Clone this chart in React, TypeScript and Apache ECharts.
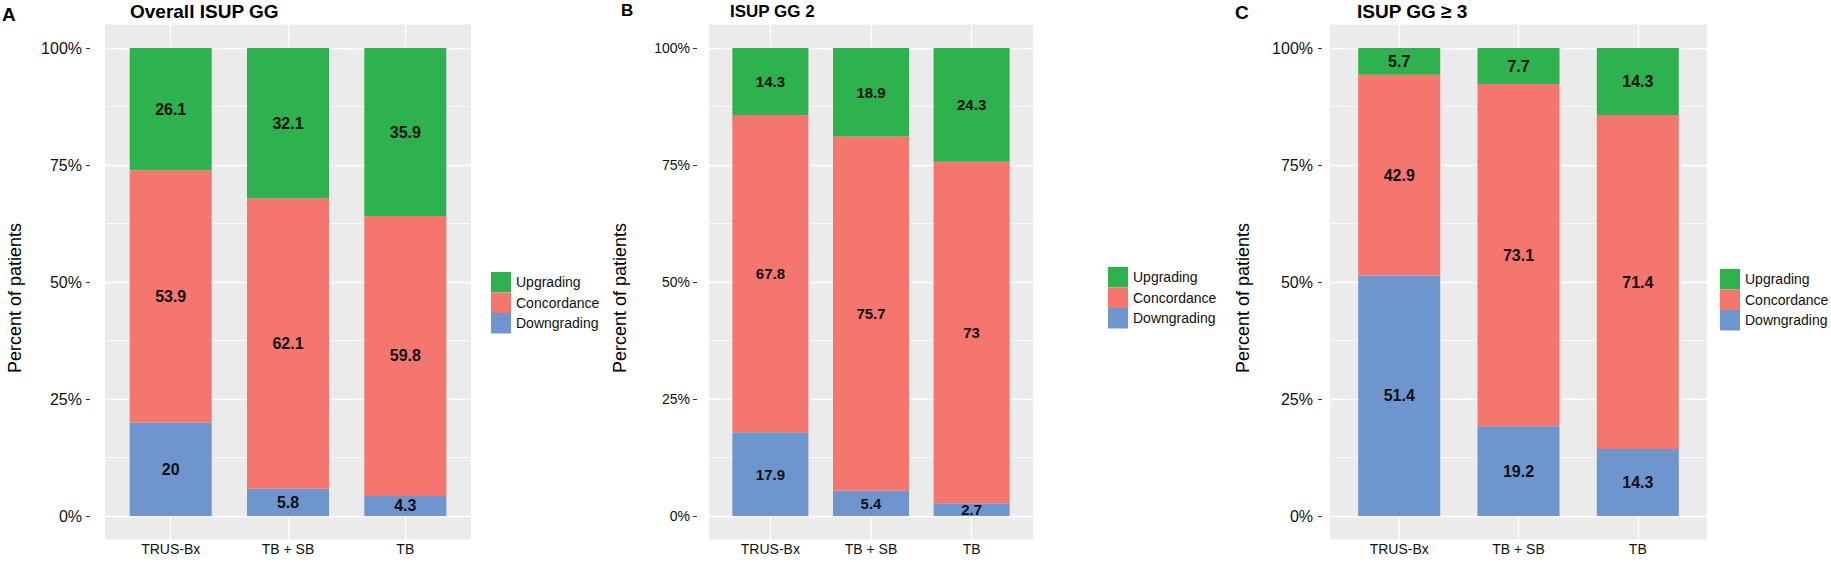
import React, { useEffect, useRef } from "react";
import * as echarts from "echarts";

// ---- data ----
const categories = ["TRUS-Bx", "TB + SB", "TB"];
const legendOrder = ["Upgrading", "Concordance", "Downgrading"];
const panelTags = ["A", "B", "C"];
const panelTitles = ["Overall ISUP GG", "ISUP GG 2", "ISUP GG \u2265 3"];
const yTicks = [0, 25, 50, 75, 100];
const yMinorTicks = [12.5, 37.5, 62.5, 87.5];

const downA = [20, 5.8, 4.3];
const concA = [53.9, 62.1, 59.8];
const upA = [26.1, 32.1, 35.9];

const downB = [17.9, 5.4, 2.7];
const concB = [67.8, 75.7, 73];
const upB = [14.3, 18.9, 24.3];

const downC = [51.4, 19.2, 14.3];
const concC = [42.9, 73.1, 71.4];
const upC = [5.7, 7.7, 14.3];

const panelData = [
  { down: downA, conc: concA, up: upA },
  { down: downB, conc: concB, up: upB },
  { down: downC, conc: concC, up: upC },
];

// ---- styles / layout ----
const COLORS = { Upgrading: "#2EB24D", Concordance: "#F4766F", Downgrading: "#6E95CE" };
const FONT = "'Liberation Sans', Arial, Helvetica, sans-serif";
const W = 1831;
const H = 562;
const Y100 = 48;
const Y0 = 516;

const layouts = [
  { left: 105, right: 471, pad: 0.56, barWidth: 82, yLabelSize: 16, valSize: 16, tickGap: 15, labelMargin: 8,
    legendLeft: 491, legendTop: 272, yTitleX: 15, tag: { x: 2, y: 14.5, size: 19 }, title: { x: 130, y: 11, size: 19 } },
  { left: 709, right: 1033, pad: 0.61, barWidth: 76, yLabelSize: 14, valSize: 15, tickGap: 12, labelMargin: 7,
    legendLeft: 1108, legendTop: 267, yTitleX: 620, tag: { x: 621, y: 10, size: 17 }, title: { x: 730, y: 11, size: 17 } },
  { left: 1330, right: 1707, pad: 0.58, barWidth: 82, yLabelSize: 16, valSize: 16, tickGap: 8, labelMargin: 9,
    legendLeft: 1720, legendTop: 269, yTitleX: 1243, tag: { x: 1235, y: 12, size: 19 }, title: { x: 1357, y: 11, size: 19 } },
];

function buildOption() {
  const span = Y0 - Y100;
  const bgTop = Y100 - span * 0.05;
  const bgBottom = Y0 + span * 0.05;
  const grid: any[] = [];
  const xAxis: any[] = [];
  const yAxis: any[] = [];
  const series: any[] = [];
  const legend: any[] = [];
  const graphic: any[] = [];

  layouts.forEach((L, p) => {
    const u = (L.right - L.left) / (2 + 2 * L.pad);
    const innerLeft = L.left + (L.pad - 0.5) * u;
    const innerRight = L.right - (L.pad - 0.5) * u;
    const bgIdx = 2 * p;
    const inIdx = 2 * p + 1;

    grid.push({
      left: L.left, width: L.right - L.left, top: bgTop, height: bgBottom - bgTop,
      show: true, backgroundColor: "#EBEBEB", borderWidth: 0, containLabel: false, z: 0,
    });
    grid.push({
      left: innerLeft, width: innerRight - innerLeft, top: Y100, height: Y0 - Y100,
      show: false, containLabel: false,
    });

    xAxis.push({ gridIndex: bgIdx, type: "value", min: -L.pad, max: 2 + L.pad, show: false });
    yAxis.push({ gridIndex: bgIdx, type: "value", min: -5, max: 105, show: false });

    xAxis.push({
      gridIndex: inIdx, type: "category", data: categories, boundaryGap: true,
      axisLine: { show: false }, axisTick: { show: false }, splitLine: { show: false },
      offset: bgBottom - Y0,
      axisLabel: { fontSize: 14, color: "#111", margin: 3, fontFamily: FONT },
    });
    yAxis.push({
      gridIndex: inIdx, type: "value", min: 0, max: 100, interval: 25,
      axisLine: { show: false }, splitLine: { show: false },
      axisTick: { show: true, length: 4, lineStyle: { color: "#333", width: 1 } },
      offset: innerLeft - L.left + L.tickGap,
      axisLabel: { formatter: "{value}%", fontSize: L.yLabelSize, color: "#111", margin: L.labelMargin, fontFamily: FONT },
    });

    const lines: any[] = [];
    yTicks.forEach((v) => lines.push({ yAxis: v, lineStyle: { width: 1.4 } }));
    yMinorTicks.forEach((v) => lines.push({ yAxis: v, lineStyle: { width: 0.7 } }));
    categories.forEach((_, i) => lines.push({ xAxis: i, lineStyle: { width: 1.4 } }));

    series.push({
      type: "line", xAxisIndex: bgIdx, yAxisIndex: bgIdx, data: [], silent: true, z: 1,
      markLine: {
        silent: true, symbol: ["none", "none"], label: { show: false }, animation: false, z: 1,
        lineStyle: { color: "#FFFFFF", type: "solid", width: 1.4 },
        emphasis: { disabled: true },
        data: lines,
      },
    });

    const d = panelData[p];
    const seriesDefs = [
      { name: "Downgrading", data: d.down },
      { name: "Concordance", data: d.conc },
      { name: "Upgrading", data: d.up },
    ];
    seriesDefs.forEach((s) => {
      series.push({
        type: "bar", name: s.name, stack: "panel" + p, xAxisIndex: inIdx, yAxisIndex: inIdx,
        data: s.data, barWidth: L.barWidth, z: 10,
        itemStyle: { color: (COLORS as any)[s.name] },
        label: {
          show: true, position: "inside", formatter: "{c}", fontSize: L.valSize, fontWeight: "bold",
          color: "#111", textBorderWidth: 0, fontFamily: FONT,
        },
        emphasis: { disabled: true },
      });
    });

    legend.push({
      data: legendOrder, orient: "vertical", left: L.legendLeft, top: L.legendTop,
      itemWidth: 20, itemHeight: 20.5, itemGap: 0, padding: 0, icon: "rect", selectedMode: false,
      textStyle: { fontSize: 14, color: "#111", fontFamily: FONT },
    });

    graphic.push({
      type: "text", x: L.tag.x, y: L.tag.y,
      style: { text: panelTags[p], fontSize: L.tag.size, fontWeight: "bold", fill: "#000", fontFamily: FONT,
        textAlign: "left", textVerticalAlign: "middle" },
    });
    graphic.push({
      type: "text", x: L.title.x, y: L.title.y,
      style: { text: panelTitles[p], fontSize: L.title.size, fontWeight: "bold", fill: "#000", fontFamily: FONT,
        textAlign: "left", textVerticalAlign: "middle" },
    });
    graphic.push({
      type: "text", x: L.yTitleX, y: 298, rotation: Math.PI / 2,
      style: { text: "Percent of patients", fontSize: 18, fill: "#000", fontFamily: FONT,
        textAlign: "center", textVerticalAlign: "middle" },
    });
  });

  return {
    animation: false,
    backgroundColor: "#FFFFFF",
    textStyle: { fontFamily: FONT },
    grid, xAxis, yAxis, series, legend, graphic,
  };
}

export default function App() {
  const ref = useRef<HTMLDivElement>(null);
  useEffect(() => {
    if (!ref.current) return;
    const chart = echarts.init(ref.current, undefined, { renderer: "svg", width: W, height: H });
    chart.setOption(buildOption() as any);
    return () => chart.dispose();
  }, []);
  return (
    <div
      ref={ref}
      style={{ position: "absolute", left: 0, top: 0, width: W, height: H, background: "#fff" }}
    />
  );
}
